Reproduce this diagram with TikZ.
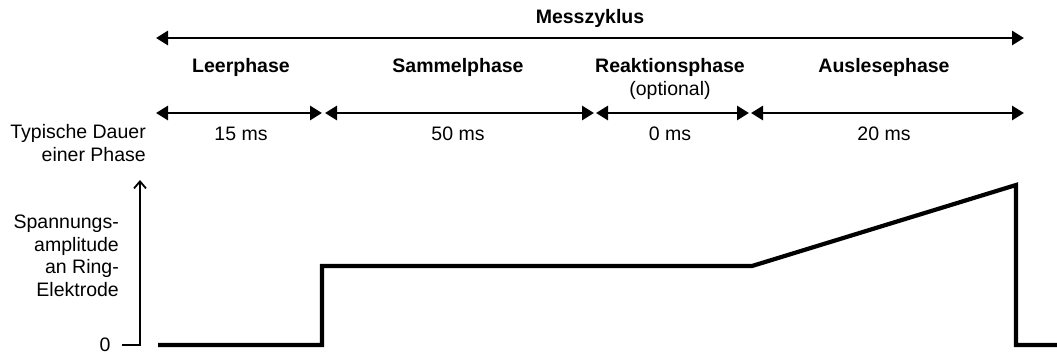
\documentclass[tikz,border=0pt]{standalone}
\usepackage{fontspec}
\setmainfont{Liberation Sans}
\usetikzlibrary{arrows.meta}
\begin{document}
\begin{tikzpicture}[x=1pt,y=-1pt,
  lbl/.style={font=\fontsize{19.5}{22.5}\selectfont, inner sep=0pt},
  bold/.style={lbl, font=\fontsize{19.5}{22.5}\selectfont\bfseries},
  span/.style={line width=2.8pt, {Triangle[length=12pt,width=14pt]}-{Triangle[length=12pt,width=14pt]}},
  axis/.style={line width=1.8pt},
  signal/.style={line width=4.2pt, line join=miter}]
\useasboundingbox (0,0) rectangle (1057,356);

% full measuring cycle
\coordinate (c0) at (156,38);
\coordinate (c1) at (1024,38);
\draw[span] (c0) -- (c1);
\node[bold] (mz) at (590,18) {Messzyklus};

% phase boundaries
\coordinate (a0) at (156,113);
\coordinate (a1l) at (322,113);
\coordinate (a1r) at (325,113);
\coordinate (a2l) at (594,113);
\coordinate (a2r) at (596,113);
\coordinate (a3l) at (749,113);
\coordinate (a3r) at (751,113);
\coordinate (a4) at (1024,113);
\draw[span] (a0) -- (a1l);
\draw[span] (a1r) -- (a2l);
\draw[span] (a2r) -- (a3l);
\draw[span] (a3r) -- (a4);

% phase names
\node[bold] (p1) at (241,67) {Leerphase};
\node[bold] (p2) at (458,67) {Sammelphase};
\node[bold] (p3) at (670,67) {Reaktionsphase};
\node[lbl] (opt) at (670,90) {(optional)};
\node[bold] (p4) at (884,67) {Auslesephase};

% durations
\node[lbl] (d1) at (241,134) {15 ms};
\node[lbl] (d2) at (458,134) {50 ms};
\node[lbl] (d3) at (670,134) {0 ms};
\node[lbl] (d4) at (884,134) {20 ms};

\node[lbl, align=right, anchor=east] (dauer) at (146,143) {Typische Dauer\\einer Phase};

% voltage axis
\coordinate (o) at (140,345);
\coordinate (top) at (140,180);
\coordinate (tk) at (122,345);
\draw[axis, -{Straight Barb[length=7pt,width=12pt,line width=1.8pt]}] (tk) -- (o) -- (top);
\node[lbl] (zero) at (105,345) {0};
\node[lbl, align=right, anchor=east] (amp) at (119,256) {Spannungs-\\amplitude\\an Ring-\\Elektrode};

% voltage curve
\coordinate (s0) at (158,345);
\coordinate (s1) at (322,345);
\coordinate (s2) at (322,266);
\coordinate (s3) at (752,266);
\coordinate (s4) at (1016,185);
\coordinate (s5) at (1016,345);
\coordinate (s6) at (1057,345);
\draw[signal] (s0) -- (s1) -- (s2) -- (s3) -- (s4) -- (s5) -- (s6);
\end{tikzpicture}
\end{document}
